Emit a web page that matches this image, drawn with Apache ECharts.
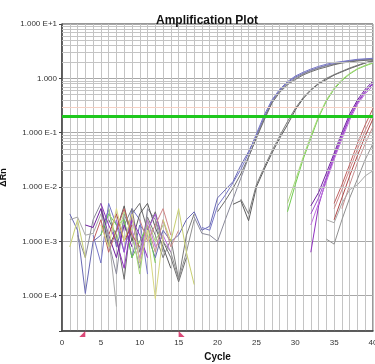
<!DOCTYPE html>
<html>
<head>
<meta charset="utf-8">
<script src="https://cdn.jsdelivr.net/npm/echarts@6/dist/echarts.min.js"></script>
<style>
html,body{margin:0;padding:0;background:#fff;}
#chart{width:375px;height:364px;}
</style>
</head>
<body>
<div id="chart"></div>
<script>
// ---- data (ΔRn per cycle, null = not shown) ----
var cycles = [1,2,3,4,5,6,7,8,9,10,11,12,13,14,15,16,17,18,19,20,21,22,23,24,25,26,27,28,29,30,31,32,33,34,35,36,37,38,39,40];
var xTickLabels = [0,5,10,15,20,25,30,35,40];
var yTickLabels = ['1.000 E-4','1.000 E-3','1.000 E-2','1.000 E-1','1.000','1.000 E+1'];
var threshold = 0.2;
var threshold2 = 0.3;
var baselineMarks = [3, 15];

var s1a = [3.2e-3,1.6e-3,1.1e-4,1.0e-3,1.3e-3,4.0e-3,7.9e-4,2.5e-3,5.0e-4,2.0e-3, 1.3e-3,5.0e-4,1.6e-3,1.0e-3,1.3e-3,2.5e-3,3.5e-3,1.6e-3,1.9e-3,6.3e-3, 8.9e-3,1.26e-2,2.5e-2,4.5e-2,8.9e-2,0.19,0.38,0.60,0.83,1.05, 1.23,1.41,1.58,1.74,1.86,2.0,2.09,2.19,2.24,2.29];
var s1b = [null,1.3e-3,5.0e-4,2.5e-3,5.0e-3,1.0e-3,2.5e-4,3.2e-3,1.3e-3,3.2e-4, 4.0e-3,2.5e-3,6.3e-4,null,null,null,2.8e-3,1.4e-3,1.3e-3,1.0e-3, 2.5e-3,6.0e-3,1.45e-2,3.5e-2,8.3e-2,0.18,0.36,0.58,0.79,1.0, 1.2,1.38,1.55,1.70,1.82,1.95,2.04,2.14,2.19,2.24];
var s1c = [null,null,null,1.3e-3,4.0e-4,5.0e-3,2.0e-3,6.3e-4,4.0e-3,2.5e-3, 2.5e-4,null,null,null,null,null,null,1.8e-3,1.6e-3,4.5e-3, 7.1e-3,1.2e-2,2.1e-2,4.2e-2,9.5e-2,0.21,0.40,0.63,0.87,1.10, 1.29,1.48,1.66,1.82,1.95,2.04,2.14,2.24,2.29,2.34];
var s1d = [null,null,null,null,null,2.5e-3,1.3e-3,2.0e-4,3.2e-3,5.0e-3, 1.6e-3,3.5e-3,1.0e-3,5.0e-4,1.8e-4,5.0e-4,null,null,null,3.5e-3, 5.6e-3,9.5e-3,1.74e-2,3.6e-2,7.9e-2,0.17,0.35,0.55,0.76,0.95, 1.15,1.32,1.48,1.62,1.78,1.91,2.0,2.09,2.14,2.19];
var s2a = [null,null,null,null,4.0e-3,7.9e-4,1.6e-3,4.5e-3,1.0e-3,3.2e-3, 5.0e-3,1.8e-3,7.9e-4,3.2e-4,null,null,null,null,null,null, null,4.8e-3,5.6e-3,2.4e-3,1.0e-2,2.1e-2,4.2e-2,7.9e-2,0.14,0.26, 0.42,0.60,0.79,0.95,1.15,1.32,1.51,1.70,1.91,2.09];
var s2b = [null,null,null,null,null,null,null,2.0e-3,4.0e-3,6.3e-4, 2.8e-3,1.3e-3,5.0e-4,1.1e-3,2.0e-4,1.3e-3,3.2e-3,null,null,null, null,null,6.0e-3,3.2e-3,1.1e-2,2.3e-2,4.6e-2,8.7e-2,0.16,0.28, 0.44,0.62,0.81,1.0,1.17,1.35,1.55,1.74,1.95,2.14];
var s3a = [null,null,null,null,1.3e-3,3.2e-3,2.0e-3,2.5e-3,5.0e-4,1.0e-3, 2.0e-3,4.0e-4,null,null,null,null,null,null,null,null, null,null,null,null,null,null,null,null,3.5e-3,1.1e-2, 3.2e-2,7.9e-2,0.19,0.38,0.63,0.91,1.2,1.48,1.70,1.91];
var s3b = [null,null,null,null,null,4.0e-3,1.0e-3,3.5e-3,1.6e-3,2.5e-4, 2.5e-3,1.0e-3,2.0e-3,null,null,null,null,null,null,null, null,null,null,null,null,null,null,null,5.0e-3,1.3e-2, 3.5e-2,8.7e-2,0.20,0.40,0.66,0.95,1.23,1.51,1.74,1.95];
var s4a = [null,null,null,null,5.0e-3,2.0e-3,1.0e-3,3.2e-4,2.5e-3,1.3e-3, 5.0e-4,null,null,null,null,null,null,null,null,null, null,null,null,null,null,null,null,null,null,null, null,6.3e-4,4.5e-3,1.4e-2,3.5e-2,8.3e-2,0.19,0.35,0.56,0.79];
var s4b = [null,null,null,null,null,null,2.5e-3,6.3e-4,3.2e-3,4.0e-4, 1.6e-3,3.2e-3,1.0e-3,null,null,null,null,null,null,null, null,null,null,null,null,null,null,null,null,null, null,3.2e-3,6.3e-3,1.5e-2,3.8e-2,8.9e-2,0.2,0.37,0.58,0.83];
var s4c = [null,null,2.0e-3,1.8e-3,4.0e-3,1.3e-3,5.0e-4,2.0e-3,7.9e-4,null, null,null,null,null,null,null,null,null,null,null, null,null,null,null,null,null,null,null,null,null, null,4.5e-3,7.9e-3,1.8e-2,4.2e-2,0.1,0.22,0.4,0.63,0.89];
var s4d = [null,null,null,null,null,null,null,null,1.6e-3,5.0e-4, 2.5e-3,7.9e-4,1.3e-3,6.3e-4,null,null,null,null,null,null, null,null,null,null,null,null,null,null,null,null, null,2.0e-3,5.0e-3,1.26e-2,3.2e-2,7.6e-2,0.17,0.33,0.52,0.72];
var s5a = [null,null,null,1.0e-3,2.5e-3,6.3e-4,1.6e-3,4.0e-3,1.3e-3,7.9e-4, null,null,null,null,null,null,null,null,null,null, null,null,null,null,null,null,null,null,null,null, null,null,null,null,5.0e-3,1.1e-2,2.6e-2,6.3e-2,0.14,0.28];
var s5b = [null,null,null,null,null,null,null,null,null,2.5e-3, 1.0e-3,2.0e-3,4.0e-3,1.3e-3,null,null,null,null,null,null, null,null,null,null,null,null,null,null,null,null, null,null,null,null,4.0e-3,8.9e-3,2.1e-2,5.0e-2,0.11,0.22];
var s5c = [null,null,null,null,null,1.3e-3,3.2e-3,1.0e-3,2.0e-3,null, null,null,null,null,null,null,null,null,null,null, null,null,null,null,null,null,null,null,null,null, null,null,null,null,2.5e-3,6.3e-3,1.6e-2,3.8e-2,8.7e-2,0.18];
var s5d = [null,null,null,null,null,null,null,null,null,null, 2.0e-3,6.3e-4,2.5e-3,7.9e-4,1.6e-3,null,null,null,null,null, null,null,null,null,null,null,null,null,null,null, null,null,null,null,null,4.0e-3,1.1e-2,2.8e-2,6.3e-2,0.13];
var s6a = [null,null,null,null,null,null,null,null,null,null, null,2.5e-3,1.0e-3,6.3e-4,2.0e-4,6.3e-4,2.5e-3,null,null,null, null,null,null,null,null,null,null,null,null,null, null,null,null,1.1e-3,8.9e-4,2.5e-3,6.3e-3,1.4e-2,3.2e-2,6.3e-2];
var s6b = [2.5e-3,2.8e-3,1.3e-3,1.4e-3,3.2e-3,1.3e-3,6.3e-5,null,null,null, null,null,null,null,null,null,null,null,null,null, null,null,null,null,null,null,null,null,null,null, null,null,null,2.5e-3,2.2e-3,5.0e-3,8.9e-3,1.1e-2,1.6e-2,2.0e-2];
var s7a = [null,null,null,null,2.0e-3,7.9e-4,4.0e-3,1.0e-3,3.2e-3,4.0e-4, 1.6e-3,8.9e-5,1.3e-3,null,null,null,null,null,null,null, null,null,null,null,null,null,null,null,null,null, null,null,null,null,null,null,null,null,null,null];
var s7b = [7.9e-4,2.5e-3,5.0e-4,null,null,null,null,null,null,null, null,null,2.5e-3,1.0e-3,4.0e-3,6.3e-4,1.6e-4,null,null,null, null,null,null,null,null,null,null,null,null,null, null,null,null,null,null,null,null,null,null,null];

var samples = [s1a,s1b,s1c,s1d,s2a,s2b,s3a,s3b,s4a,s4b,s4c,s4d,s5a,s5b,s5c,s5d,s6a,s6b,s7a,s7b];
var colors  = ['#6a6ab4','#8a8a9a','#7878c8','#6e6e6e','#5c5c5c','#7a7a7a','#70cc50','#a8d878','#9030c0','#a050d0','#7020a0','#c070e0','#c06060','#d08888','#b04848','#c89090','#909090','#a8a8a8','#d8d880','#c8d070'];

// ---- chart ----
var yMin = 2.24e-5, yMax = 10;
var chart = echarts.init(document.getElementById('chart'), null, {renderer:'canvas'});

var minorLines = [];
for (var k = -5; k <= 0; k++) {
  for (var m = 2; m <= 9; m++) {
    var v = m * Math.pow(10, k);
    if (v > yMin && v < yMax) minorLines.push({yAxis: v});
  }
}

function fmtY(v) {
  var e = Math.log(v) / Math.LN10;
  var r = Math.round(e);
  if (Math.abs(e - r) > 1e-6) return '';
  var idx = r + 4;
  return yTickLabels[idx] || '';
}

var series = [];
series.push({
  type: 'line', name: 'grid', data: [], silent: true, z: 1,
  markLine: {
    silent: true, symbol: ['none','none'], animation: false,
    label: {show: false},
    lineStyle: {color: '#c4c4c4', width: 1, type: 'solid'},
    data: minorLines
  }
});
series.push({
  type: 'line', name: 'thr', data: [], silent: true, z: 3,
  markLine: {
    silent: true, symbol: ['none','none'], animation: false,
    label: {show: false},
    data: [
      {yAxis: threshold2, lineStyle: {color: '#f4d0c4', width: 1, type: 'solid'}},
      {yAxis: threshold, lineStyle: {color: '#1ec81e', width: 3, type: 'solid'}}
    ]
  }
});
samples.forEach(function (arr, i) {
  series.push({
    type: 'line', name: 'S' + (i + 1),
    data: cycles.map(function (c, j) { return [c, arr[j]]; }),
    showSymbol: false, symbol: 'none', connectNulls: false,
    lineStyle: {color: colors[i], width: 1},
    itemStyle: {color: colors[i]},
    z: 2, animation: false
  });
});
series.push({
  type: 'scatter', name: 'baseline', clip: false, z: 5,
  data: [[baselineMarks[0], yMin]],
  symbol: 'path://M0,10 L10,10 L10,0 Z', symbolSize: 6, symbolOffset: [-3, 3],
  itemStyle: {color: '#d21a55'}
});
series.push({
  type: 'scatter', name: 'baseline2', clip: false, z: 5,
  data: [[baselineMarks[1], yMin]],
  symbol: 'path://M0,0 L0,10 L10,10 Z', symbolSize: 6, symbolOffset: [3, 3],
  itemStyle: {color: '#d21a55'}
});

chart.setOption({
  animation: false,
  backgroundColor: '#ffffff',
  title: {
    text: 'Amplification Plot', left: 151, top: 10,
    textStyle: {fontFamily: 'Liberation Sans, Arial, sans-serif', fontSize: 12, fontWeight: 'bold', color: '#111'}
  },
  grid: {left: 62, right: 2, top: 24, bottom: 33, containLabel: false, outerBoundsMode: 'none',
         show: true, borderColor: '#333', borderWidth: 1, backgroundColor: 'transparent'},
  xAxis: {
    type: 'value', min: 0, max: 40, interval: 1,
    name: 'Cycle', nameLocation: 'middle', nameGap: 20,
    nameTextStyle: {fontFamily: 'Liberation Sans, Arial, sans-serif', fontSize: 10, fontWeight: 'bold', color: '#111'},
    axisLine: {lineStyle: {color: '#444', width: 1.5}},
    axisTick: {show: false},
    axisLabel: {
      fontFamily: 'Liberation Sans, Arial, sans-serif', fontSize: 8, color: '#333', margin: 8,
      formatter: function (v) { return xTickLabels.indexOf(v) >= 0 ? String(v) : ''; }
    },
    splitLine: {show: true, lineStyle: {color: '#c4c4c4', width: 1}}
  },
  yAxis: {
    type: 'log', logBase: 10, min: yMin, max: yMax,
    name: 'ΔRn', nameLocation: 'middle', nameGap: 54, nameRotate: 90,
    nameTextStyle: {fontFamily: 'Liberation Sans, Arial, sans-serif', fontSize: 9, fontWeight: 'bold', color: '#111'},
    axisLine: {show: true, lineStyle: {color: '#444', width: 1.5}},
    axisTick: {show: true, length: 3, lineStyle: {color: '#444'}},
    axisLabel: {fontFamily: 'Liberation Sans, Arial, sans-serif', fontSize: 8, color: '#333', margin: 5, formatter: fmtY},
    splitLine: {show: true, lineStyle: {color: '#a8a8a8', width: 1}}
  },
  series: series
});
</script>
</body>
</html>
